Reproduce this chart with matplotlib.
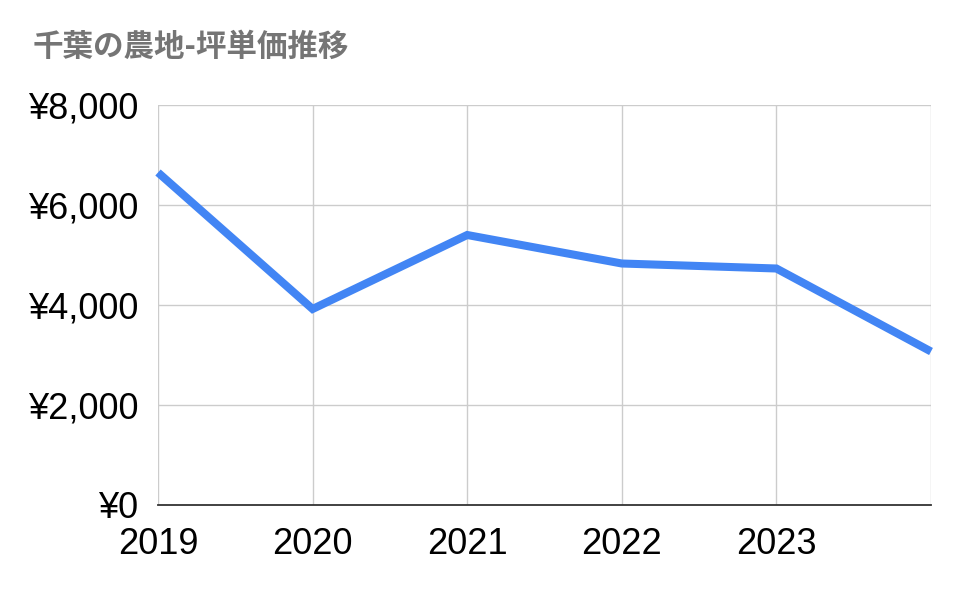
import matplotlib
matplotlib.use("Agg")
import matplotlib.pyplot as plt
from matplotlib.ticker import FuncFormatter

years = [2019, 2020, 2021, 2022, 2023, 2024]
prices = [6650, 3920, 5400, 4830, 4730, 3070]
xtick_labels = ["2019", "2020", "2021", "2022", "2023"]
title = "千葉の農地-坪単価推移"

plt.rcParams['font.family'] = ['Liberation Sans', 'DejaVu Sans']

fig = plt.figure(figsize=(9.61, 5.95), dpi=100)
ax = fig.add_axes([158/961, 1-505/595, (931-158)/961, (505-105)/595])

ax.plot(years, prices, color='#4285F4', linewidth=5.8, solid_joinstyle='miter', solid_capstyle='butt', zorder=3, clip_on=False)

ax.set_xlim(2019, 2024)
ax.set_ylim(0, 8000)
ax.set_xticks(years[:-1])
ax.set_xticklabels(xtick_labels)
ax.set_yticks([0, 2000, 4000, 6000, 8000])
ax.yaxis.set_major_formatter(FuncFormatter(lambda v, p: "¥{:,.0f}".format(v)))

for y in [2000, 4000, 6000, 8000]:
    ax.axhline(y, color='#cccccc', linewidth=1, zorder=1)
for x in years:
    ax.axvline(x, color='#cccccc', linewidth=1, zorder=1)

for s in ['top', 'right', 'left']:
    ax.spines[s].set_visible(False)
ax.spines['bottom'].set_color('#333333')
ax.spines['bottom'].set_linewidth(1.3)
ax.spines['bottom'].set_zorder(4)

ax.tick_params(axis='both', length=0, labelsize=26, colors='#000000')
ax.tick_params(axis='x', pad=16)
ax.tick_params(axis='y', pad=14)

fig.text(33/961, 1-47/595, title, fontsize=22, fontweight='bold', color='#757575',
         family=['Noto Sans CJK JP', 'DejaVu Sans'], va='center', ha='left')

fig.savefig('out.png', dpi=100)
